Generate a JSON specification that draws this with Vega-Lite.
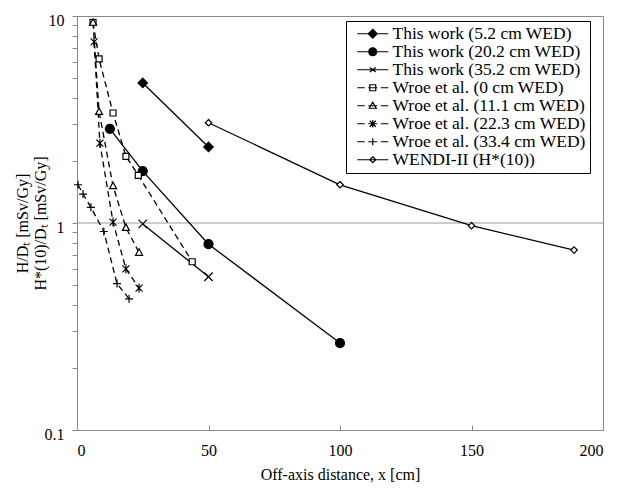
{
  "$schema": "https://vega.github.io/schema/vega-lite/v6.json",
  "width": 526,
  "height": 414,
  "autosize": {"type": "none"},
  "padding": {"left": 77, "top": 16, "right": 14, "bottom": 58},
  "background": "white",
  "config": {
    "font": "Liberation Serif",
    "view": {"stroke": "#888888", "strokeWidth": 1}
  },
  "datasets": {
    "pts": [
      {"series": "This work (5.2 cm WED)", "style": "solid", "x": 25, "y": 4.75},
      {"series": "This work (5.2 cm WED)", "style": "solid", "x": 50, "y": 2.33},
      {"series": "This work (20.2 cm WED)", "style": "solid", "x": 12.5, "y": 2.85},
      {"series": "This work (20.2 cm WED)", "style": "solid", "x": 25, "y": 1.78},
      {"series": "This work (20.2 cm WED)", "style": "solid", "x": 50, "y": 0.79},
      {"series": "This work (20.2 cm WED)", "style": "solid", "x": 100, "y": 0.263},
      {"series": "This work (35.2 cm WED)", "style": "solid", "x": 25, "y": 0.99},
      {"series": "This work (35.2 cm WED)", "style": "solid", "x": 50, "y": 0.55},
      {"series": "Wroe et al. (0 cm WED)", "style": "dashed", "x": 6.1, "y": 9.3},
      {"series": "Wroe et al. (0 cm WED)", "style": "dashed", "x": 8.4, "y": 6.2},
      {"series": "Wroe et al. (0 cm WED)", "style": "dashed", "x": 13.7, "y": 3.4},
      {"series": "Wroe et al. (0 cm WED)", "style": "dashed", "x": 18.6, "y": 2.1},
      {"series": "Wroe et al. (0 cm WED)", "style": "dashed", "x": 23.3, "y": 1.7},
      {"series": "Wroe et al. (0 cm WED)", "style": "dashed", "x": 43.8, "y": 0.65},
      {"series": "Wroe et al. (11.1 cm WED)", "style": "dashed", "x": 6.1, "y": 9.3},
      {"series": "Wroe et al. (11.1 cm WED)", "style": "dashed", "x": 8.4, "y": 3.45},
      {"series": "Wroe et al. (11.1 cm WED)", "style": "dashed", "x": 13.7, "y": 1.51},
      {"series": "Wroe et al. (11.1 cm WED)", "style": "dashed", "x": 18.6, "y": 0.95},
      {"series": "Wroe et al. (11.1 cm WED)", "style": "dashed", "x": 23.6, "y": 0.72},
      {"series": "Wroe et al. (22.3 cm WED)", "style": "dashed", "x": 6.5, "y": 7.5},
      {"series": "Wroe et al. (22.3 cm WED)", "style": "dashed", "x": 8.7, "y": 2.43},
      {"series": "Wroe et al. (22.3 cm WED)", "style": "dashed", "x": 13.7, "y": 1.01},
      {"series": "Wroe et al. (22.3 cm WED)", "style": "dashed", "x": 18.6, "y": 0.6},
      {"series": "Wroe et al. (22.3 cm WED)", "style": "dashed", "x": 23.6, "y": 0.485},
      {"series": "Wroe et al. (33.4 cm WED)", "style": "dashed", "x": 0.4, "y": 1.53},
      {"series": "Wroe et al. (33.4 cm WED)", "style": "dashed", "x": 2.3, "y": 1.38},
      {"series": "Wroe et al. (33.4 cm WED)", "style": "dashed", "x": 5.3, "y": 1.19},
      {"series": "Wroe et al. (33.4 cm WED)", "style": "dashed", "x": 10.2, "y": 0.91},
      {"series": "Wroe et al. (33.4 cm WED)", "style": "dashed", "x": 15.2, "y": 0.51},
      {"series": "Wroe et al. (33.4 cm WED)", "style": "dashed", "x": 19.8, "y": 0.43},
      {"series": "WENDI-II (H*(10))", "style": "solid", "x": 50, "y": 3.05},
      {"series": "WENDI-II (H*(10))", "style": "solid", "x": 100, "y": 1.53},
      {"series": "WENDI-II (H*(10))", "style": "solid", "x": 150, "y": 0.97},
      {"series": "WENDI-II (H*(10))", "style": "solid", "x": 189, "y": 0.74}
    ]
  },
  "layer": [
    {
      "data": {"values": [{"y": 1}]},
      "mark": {"type": "rule", "color": "#999999", "strokeWidth": 1},
      "encoding": {
        "y": {"field": "y", "type": "quantitative", "scale": {"type": "log", "domain": [0.1, 10]},
          "axis": {
            "title": ["H/Dₜ [mSv/Gy]", "H*(10)/Dₜ [mSv/Gy]"],
            "titleFontSize": 16, "titleFontWeight": "normal", "titleColor": "black", "titleLineHeight": 18, "titlePadding": -4,
            "values": [0.1,0.2,0.3,0.4,0.5,0.6,0.7,0.8,0.9,1,2,3,4,5,6,7,8,9,10],
            "labelExpr": "datum.value == 10 ? '10' : datum.value == 1 ? '1' : datum.value == 0.1 ? '0.1' : ''",
            "labelOverlap": false, "labelBound": false, "labelFontSize": 16, "labelColor": "black", "labelPadding": 8, "labelOffset": 4,
            "tickSize": 5, "tickColor": "#888888", "domain": false, "grid": false
          }
        }
      }
    },
    {
      "data": {"name": "pts"},
      "transform": [{"filter": "datum.style == 'solid'"}],
      "mark": {"type": "line", "color": "black", "strokeWidth": 1.3},
      "encoding": {
        "x": {"field": "x", "type": "quantitative", "scale": {"domain": [0, 200]},
          "axis": {
            "title": "Off-axis distance, x [cm]", "titleFontSize": 16, "titleFontWeight": "normal", "titleColor": "black", "titlePadding": 8,
            "values": [0, 50, 100, 150, 200], "labelFontSize": 16, "labelColor": "black", "labelPadding": 17,
            "tickSize": -5, "tickColor": "#888888", "domain": false, "grid": false
          }
        },
        "y": {"field": "y", "type": "quantitative", "scale": {"type": "log", "domain": [0.1, 10]}},
        "detail": {"field": "series", "type": "nominal"}
      }
    },
    {
      "data": {"name": "pts"},
      "transform": [{"filter": "datum.style == 'dashed'"}],
      "mark": {"type": "line", "color": "black", "strokeWidth": 1.3, "strokeDash": [6, 4]},
      "encoding": {
        "x": {"field": "x", "type": "quantitative", "scale": {"domain": [0, 200]}},
        "y": {"field": "y", "type": "quantitative", "scale": {"type": "log", "domain": [0.1, 10]}},
        "detail": {"field": "series", "type": "nominal"}
      }
    },
    {
      "data": {"name": "pts"},
      "mark": {"type": "point", "filled": true, "stroke": "black", "strokeWidth": 1.2, "size": 100},
      "encoding": {
        "x": {"field": "x", "type": "quantitative", "scale": {"domain": [0, 200]}},
        "y": {"field": "y", "type": "quantitative", "scale": {"type": "log", "domain": [0.1, 10]}},
        "fill": {
          "field": "series", "type": "nominal", "legend": null,
          "scale": {
            "domain": ["This work (5.2 cm WED)", "This work (20.2 cm WED)", "This work (35.2 cm WED)", "Wroe et al. (0 cm WED)", "Wroe et al. (11.1 cm WED)", "Wroe et al. (22.3 cm WED)", "Wroe et al. (33.4 cm WED)", "WENDI-II (H*(10))", "-"],
            "range": ["black", "black", "black", "white", "white", "white", "white", "white", "white"]
          }
        },
        "shape": {
          "field": "series", "type": "nominal", "legend": null,
          "scale": {
            "domain": ["This work (5.2 cm WED)", "This work (20.2 cm WED)", "This work (35.2 cm WED)", "Wroe et al. (0 cm WED)", "Wroe et al. (11.1 cm WED)", "Wroe et al. (22.3 cm WED)", "Wroe et al. (33.4 cm WED)", "WENDI-II (H*(10))", "-"],
            "range": [
              "M0,-0.95L0.95,0L0,0.95L-0.95,0Z",
              "M-0.9,0A0.9,0.9 0 1,0 0.9,0A0.9,0.9 0 1,0 -0.9,0Z",
              "M-0.85,-0.85L0.85,0.85M-0.85,0.85L0.85,-0.85",
              "M-0.6,-0.6L0.6,-0.6L0.6,0.6L-0.6,0.6Z",
              "M0,-0.75L0.7,0.55L-0.7,0.55Z",
              "M-0.7,-0.7L0.7,0.7M-0.7,0.7L0.7,-0.7M0,-0.9L0,0.9",
              "M-0.8,0L0.8,0M0,-0.8L0,0.8",
              "M0,-0.65L0.65,0L0,0.65L-0.65,0Z",
              "M0,0L0,0"
            ]
          }
        },
        "opacity": {
          "field": "series", "type": "nominal",
          "scale": {
            "domain": ["This work (5.2 cm WED)", "This work (20.2 cm WED)", "This work (35.2 cm WED)", "Wroe et al. (0 cm WED)", "Wroe et al. (11.1 cm WED)", "Wroe et al. (22.3 cm WED)", "Wroe et al. (33.4 cm WED)", "WENDI-II (H*(10))"],
            "range": [1, 1, 1, 1, 1, 1, 1, 1]
          },
          "legend": {
            "title": null, "orient": "none", "legendX": 269, "legendY": 5,
            "strokeColor": "black", "fillColor": "white", "padding": 4, "cornerRadius": 0,
            "symbolSize": 100, "symbolOffset": 14, "labelOffset": 11, "symbolStrokeWidth": 1.2,
            "symbolStrokeColor": "black",
            "symbolType": {"expr": "['M-3.1,0L3.1,0M0,-0.9L0.9,0L0,0.9L-0.9,0Z','M-3.1,0L3.1,0M-0.8,0A0.8,0.8 0 1,0 0.8,0A0.8,0.8 0 1,0 -0.8,0Z','M-3.1,0L3.1,0M-0.6,-0.45L0.6,0.45M-0.6,0.45L0.6,-0.45','M-3.1,0L-1.6,0M-0.9,0L0.9,0M1.6,0L3.1,0M-0.6,-0.6L0.6,-0.6L0.6,0.6L-0.6,0.6Z','M-3.1,0L-1.6,0M-0.9,0L0.9,0M1.6,0L3.1,0M0,-0.7L0.7,0.5L-0.7,0.5Z','M-3.1,0L-1.6,0M-0.9,0L0.9,0M1.6,0L3.1,0M-0.6,-0.6L0.6,0.6M-0.6,0.6L0.6,-0.6M0,-0.75L0,0.75','M-3.1,0L-1.6,0M-0.9,0L0.9,0M1.6,0L3.1,0M-0.7,0L0.7,0M0,-0.7L0,0.7','M-3.1,0L3.1,0M0,-0.6L0.6,0L0,0.6L-0.6,0Z'][indexof(['This work (5.2 cm WED)','This work (20.2 cm WED)','This work (35.2 cm WED)','Wroe et al. (0 cm WED)','Wroe et al. (11.1 cm WED)','Wroe et al. (22.3 cm WED)','Wroe et al. (33.4 cm WED)','WENDI-II (H*(10))'], datum.value)]"},
            "symbolFillColor": {"expr": "indexof(['This work (5.2 cm WED)','This work (20.2 cm WED)'], datum.value) >= 0 ? 'black' : 'white'"},
            "labelFont": "Liberation Serif", "labelFontSize": 17.5, "labelColor": "black", "labelLimit": 400, "rowPadding": -1.3
          }
        }
      }
    }
  ]
}
